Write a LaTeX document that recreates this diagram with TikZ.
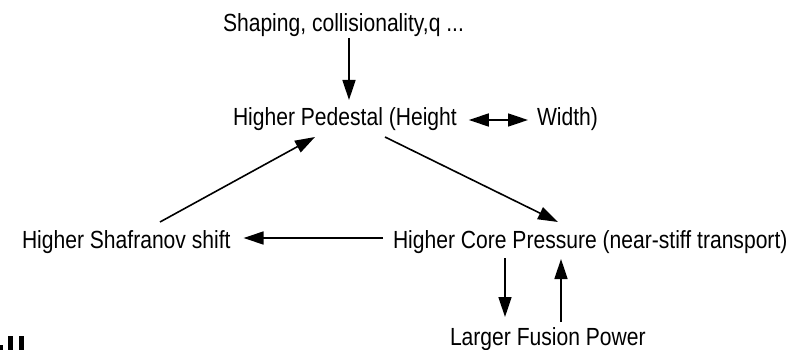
\documentclass[tikz,border=0pt]{standalone}
\usepackage{fontspec}
\setmainfont[FakeStretch=0.85]{Liberation Sans}
\usetikzlibrary{arrows.meta,calc}
\begin{document}
\begin{tikzpicture}[x=1pt,y=-1pt,
  lbl/.style={inner sep=0pt,outer sep=0pt,anchor=base west,font=\fontsize{24.8}{29}\selectfont},
  conn/.style={line width=1.6pt,-{Triangle[length=20pt,width=13pt]}},
  dconn/.style={line width=1.6pt,{Triangle[length=20pt,width=13pt]}-{Triangle[length=20pt,width=13pt]}}]
\useasboundingbox (0,0) rectangle (799,350);
\node[lbl] (shaping) at (223,32) {Shaping, collisionality,q ...};
\node[lbl] (ped) at (233,125) {Higher Pedestal (Height};
\node[lbl] (width) at (537,125) {Width)};
\node[lbl] (shaf) at (22,248.5) {Higher Shafranov shift};
\node[lbl] (core) at (393,248.5) {Higher Core Pressure (near-stiff transport)};
\node[lbl] (fusion) at (450,345) {Larger Fusion Power};
% connectors
\draw[conn] ($(shaping.base west)+(126,6)$) -- ($(ped.base west)+(116,-25)$);
\draw[dconn] ($(ped.base east)+(12,-5)$) -- ($(width.base west)+(-9,-5)$);
\draw[conn] ($(ped.base west)+(152,12)$) -- ($(core.base west)+(165,-26.5)$);
\draw[conn] ($(shaf.base west)+(138,-26.5)$) -- ($(ped.base west)+(82,12)$);
\draw[conn] ($(core.base west)+(-10,-10.5)$) -- ($(shaf.base east)+(13,-10.5)$);
\draw[conn] ($(core.base west)+(112,9.5)$) -- ($(fusion.base west)+(55,-28)$);
\draw[conn] ($(fusion.base west)+(111,-23)$) -- ($(core.base west)+(168,10.5)$);
% cut-off fragment at bottom left
\fill (0,345) rectangle (3,350);
\fill (8,336) rectangle (13,350);
\fill (19,336) rectangle (24,350);
\end{tikzpicture}
\end{document}
